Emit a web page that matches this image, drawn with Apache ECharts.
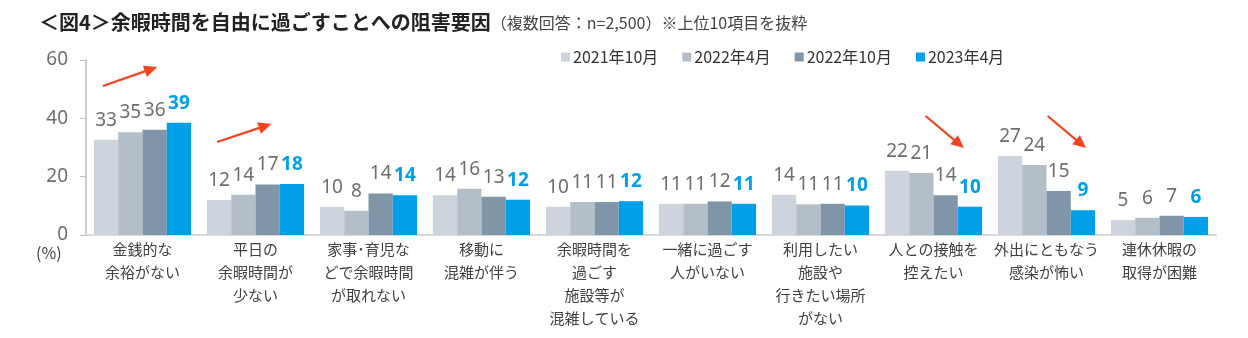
<!DOCTYPE html>
<html><head><meta charset="utf-8">
<script src="https://cdn.jsdelivr.net/npm/echarts@6/dist/echarts.min.js"></script>
<style>html,body{margin:0;padding:0;background:#fff}#c{width:1248px;height:338px}</style>
</head><body><div id="c"></div>
<script>
const categories = [
  "金銭的な\n余裕がない",
  "平日の\n余暇時間が\n少ない",
  "家事･育児な\nどで余暇時間\nが取れない",
  "移動に\n混雑が伴う",
  "余暇時間を\n過ごす\n施設等が\n混雑している",
  "一緒に過ごす\n人がいない",
  "利用したい\n施設や\n行きたい場所\nがない",
  "人との接触を\n控えたい",
  "外出にともなう\n感染が怖い",
  "連休休暇の\n取得が困難"
];
const seriesNames = ["2021年10月", "2022年4月", "2022年10月", "2023年4月"];
const v2021_10 = [32.7, 12.0, 9.7, 13.6, 9.7, 10.7, 13.8, 22.0, 27.1, 5.1];
const v2022_04 = [35.2, 13.8, 8.3, 15.9, 11.3, 10.7, 10.5, 21.3, 24.0, 5.9];
const v2022_10 = [36.1, 17.3, 14.2, 13.1, 11.3, 11.5, 10.7, 13.6, 15.1, 6.6];
const v2023_04 = [38.5, 17.5, 13.6, 12.1, 11.6, 10.7, 10.1, 9.7, 8.5, 6.2];
const yTicks = [0, 20, 40, 60];

const colors = ["#cdd4dd", "#b3bec9", "#8095a8", "#00a0e9"];
const chart = echarts.init(document.getElementById('c'));
const valueSets = [v2021_10, v2022_04, v2022_10, v2023_04];
const FONT = '"Noto Sans CJK JP", "Noto Sans", sans-serif';

const series = valueSets.map((vals, i) => ({
  name: seriesNames[i],
  type: 'bar',
  data: vals,
  barGap: '0%',
  barCategoryGap: '14%',
  itemStyle: { color: colors[i] },
  label: {
    show: true,
    position: 'top',
    distance: 10,
    formatter: p => Math.round(p.value).toString(),
    color: i === 3 ? '#00a0e9' : '#6e6e6e',
    fontWeight: i === 3 ? 'bold' : 'normal',
    fontSize: 19,
    fontFamily: '"Noto Sans", sans-serif'
  }
}));

chart.setOption({
  animation: false,
  textStyle: { fontFamily: FONT },
  title: {
    left: 34, top: 7,
    text: '{a|＜図4＞余暇時間を自由に過ごすことへの阻害要因}{b|（複数回答：n=2,500）※上位10項目を抜粋}',
    textStyle: {
      rich: {
        a: { fontSize: 20, fontWeight: 'bold', color: '#222', fontFamily: FONT },
        b: { fontSize: 16, fontWeight: 'normal', color: '#444', fontFamily: FONT, padding: [2, 0, 0, 0] }
      }
    }
  },
  legend: {
    left: 556, top: 44,
    itemWidth: 9, itemHeight: 9, itemGap: 24,
    icon: 'rect',
    textStyle: { fontSize: 16, color: '#333', fontFamily: FONT, padding: [0, 0, 0, -2] },
    data: seriesNames
  },
  grid: { left: 86, right: 32, top: 60, bottom: 103 },
  xAxis: {
    type: 'category',
    data: categories,
    axisLine: { lineStyle: { color: '#d9d9d9', width: 2 } },
    axisTick: { show: false },
    axisLabel: {
      interval: 0, margin: 3, fontSize: 15, lineHeight: 23, color: '#404040',
      fontFamily: FONT, overflow: 'none'
    }
  },
  yAxis: {
    type: 'value', min: 0, max: 60, interval: 20,
    axisLine: { show: true, lineStyle: { color: '#bfbfbf', width: 1.5 } },
    axisTick: { show: true, length: 6, lineStyle: { color: '#bfbfbf' } },
    splitLine: { show: false },
    axisLabel: { margin: 18, fontSize: 19, color: '#6e6e6e', fontFamily: '"Noto Sans", sans-serif',
      formatter: v => yTicks.includes(v) ? String(v) : '' }
  },
  series: series
});

// annotation arrows (offset in category widths from a category centre, and value-axis positions)
const arrows = [
  { cat: 0, from: [-0.35, 51.1], to: [0.13, 57.6] },
  { cat: 1, from: [-0.34, 31.9], to: [0.14, 38.1] },
  { cat: 7, from: [-0.07, 40.8], to: [0.27, 29.8] },
  { cat: 8, from: [0.01, 40.8], to: [0.35, 29.8] }
];
function px(cat, f, v) {
  const p0 = chart.convertToPixel({ gridIndex: 0 }, [0, 0]);
  const p1 = chart.convertToPixel({ gridIndex: 0 }, [1, 0]);
  const band = p1[0] - p0[0];
  const p = chart.convertToPixel({ gridIndex: 0 }, [cat, v]);
  return [p[0] + f * band, p[1]];
}
const graphics = [];
const arrowColor = '#f4431f';
arrows.forEach(a => {
  const s = px(a.cat, a.from[0], a.from[1]);
  const t = px(a.cat, a.to[0], a.to[1]);
  const dx = t[0] - s[0], dy = t[1] - s[1];
  const L = Math.hypot(dx, dy), ux = dx / L, uy = dy / L;
  const hl = 13, hw = 6;
  const b = [t[0] - ux * hl, t[1] - uy * hl];
  graphics.push({ type: 'line', shape: { x1: s[0], y1: s[1], x2: b[0] + ux * 2, y2: b[1] + uy * 2 },
    style: { stroke: arrowColor, lineWidth: 2.2 } });
  graphics.push({ type: 'polygon', shape: { points: [t, [b[0] - uy * hw, b[1] + ux * hw], [b[0] + uy * hw, b[1] - ux * hw]] },
    style: { fill: arrowColor } });
});
graphics.push({ type: 'text', left: 36, top: 245, style: { text: '(%)', fontSize: 16, fill: '#404040', fontFamily: FONT } });
chart.setOption({ graphic: graphics });
</script></body></html>
